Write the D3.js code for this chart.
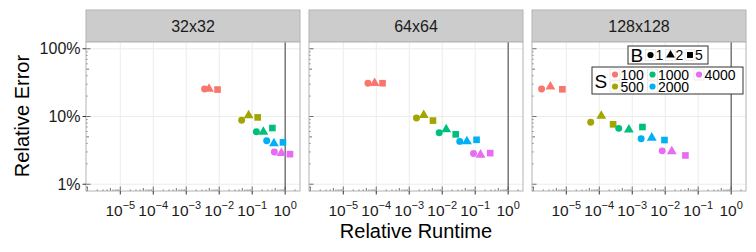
<!DOCTYPE html>
<html>
<head>
<meta charset="utf-8">
<script src="https://cdn.jsdelivr.net/npm/d3@7"></script>
<style>
  body { margin: 0; background: #fff; }
  text { font-family: "Liberation Sans", Arial, sans-serif; }
</style>
</head>
<body>
<svg id="chart" width="756" height="252"></svg>
<script>
// Data: one row per S value, three entries per row for B = 1, 2, 5
var panelNames = ["32x32", "64x64", "128x128"];
var sValues = [100, 500, 1000, 2000, 4000];
var bValues = [1, 2, 5];
var sColors = ["#F8766D", "#A3A500", "#00BF7D", "#00B0F6", "#E76BF3"];

var runtime32 = [
    [0.0036, 0.0049, 0.0089],
    [0.048, 0.078, 0.147],
    [0.134, 0.218, 0.41],
    [0.275, 0.457, 0.857],
    [0.47, 0.77, 1.40]
];
var error32 = [
    [25.5, 25.5, 25],
    [8.8, 10.4, 9.7],
    [5.95, 5.9, 6.76],
    [4.38, 4.0, 4.15],
    [3.0, 2.88, 2.78]
];
var runtime64 = [
    [5.6e-5, 8.9e-5, 1.55e-4],
    [1.66e-3, 2.75e-3, 5.25e-3],
    [8.1e-3, 1.32e-2, 2.57e-2],
    [3.4e-2, 5.6e-2, 0.11],
    [0.089, 0.145, 0.285]
];
var error64 = [
    [31, 31, 31],
    [9.5, 10.5, 8.7],
    [5.75, 6.46, 5.45],
    [4.29, 4.3, 4.53],
    [2.85, 2.72, 2.88]
];
var runtime128 = [
    [1.78e-6, 3.3e-6, 7.6e-6],
    [5.5e-5, 1.15e-4, 2.63e-4],
    [3.9e-4, 7.9e-4, 2.04e-3],
    [1.86e-3, 3.9e-3, 9.5e-3],
    [8.1e-3, 1.58e-2, 4.1e-2]
];
var error128 = [
    [25.5, 27.6, 25.2],
    [8.2, 10.2, 7.66],
    [6.68, 6.38, 6.99],
    [4.69, 4.85, 4.49],
    [3.11, 3.05, 2.66]
];
var xTickExps = [-5, -4, -3, -2, -1, 0];
var yTicks = [1, 10, 100];
var yTickLabels = ["1%", "10%", "100%"];

var runtimes = [runtime32, runtime64, runtime128];
var errors = [error32, error64, error128];

var svg = d3.select("#chart");
var font = "'Liberation Sans', Arial, sans-serif";
var panelLefts = [86, 309, 532], panelW = 214;
var stripTop = 10, panelTop = 42, panelBottom = 191;
var shapes = [d3.symbolCircle, d3.symbolTriangle, d3.symbolSquare];
var shapeSizes = [38, 42, 44];

var y = d3.scaleLog().domain([Math.pow(10, -0.1), Math.pow(10, 2.1)]).range([panelBottom, panelTop]);

// logtick positions 1..9 x 10^k
var logTicks = function(lo, hi) {
    var out = [];
    for (var k = Math.floor(Math.log10(lo)); k <= Math.ceil(Math.log10(hi)); k++) {
        for (var m = 1; m <= 9; m++) {
            var v = m * Math.pow(10, k);
            if (v >= lo && v <= hi) out.push({v: v, len: m == 1 ? 4.5 : (m == 5 ? 3 : 1.5)});
        }
    }
    return out;
}

panelNames.forEach(function(name, p) {
    var left = panelLefts[p];
    var x = d3.scaleLog().domain([Math.pow(10, -6.04), Math.pow(10, 0.45)]).range([left, left + panelW]);
    var g = svg.append("g");

    // strip
    g.append("rect").attr("x", left).attr("y", stripTop).attr("width", panelW).attr("height", panelTop - stripTop)
        .attr("fill", "#cccccc").attr("stroke", "#b3b3b3").attr("stroke-width", 1);
    g.append("text").attr("x", left + panelW / 2).attr("y", (stripTop + panelTop) / 2 + 5.5)
        .attr("text-anchor", "middle").style("font-size", "16px").attr("fill", "#1a1a1a").text(name);

    // panel + grid
    g.append("rect").attr("x", left).attr("y", panelTop).attr("width", panelW).attr("height", panelBottom - panelTop)
        .attr("fill", "#fff");
    xTickExps.forEach(function(e) {
        g.append("line").attr("x1", x(Math.pow(10, e))).attr("x2", x(Math.pow(10, e)))
            .attr("y1", panelTop).attr("y2", panelBottom).attr("stroke", "#ececec").attr("stroke-width", 1);
    });
    yTicks.forEach(function(v) {
        g.append("line").attr("x1", left).attr("x2", left + panelW).attr("y1", y(v)).attr("y2", y(v))
            .attr("stroke", "#ececec").attr("stroke-width", 1);
    });

    // log ticks inside, left and bottom
    logTicks(x.domain()[0], x.domain()[1]).forEach(function(t) {
        g.append("line").attr("x1", x(t.v)).attr("x2", x(t.v)).attr("y1", panelBottom).attr("y2", panelBottom - t.len)
            .attr("stroke", "#4d4d4d").attr("stroke-width", 0.8);
    });
    logTicks(y.domain()[0], y.domain()[1]).forEach(function(t) {
        g.append("line").attr("x1", left).attr("x2", left + t.len).attr("y1", y(t.v)).attr("y2", y(t.v))
            .attr("stroke", "#4d4d4d").attr("stroke-width", 0.8);
    });

    // reference line at runtime 1
    g.append("line").attr("x1", x(1)).attr("x2", x(1)).attr("y1", panelTop).attr("y2", panelBottom)
        .attr("stroke", "#4d4d4d").attr("stroke-width", 1.1);

    // points
    sValues.forEach(function(s, i) {
        bValues.forEach(function(b, j) {
            g.append("path")
                .attr("d", d3.symbol().type(shapes[j]).size(shapeSizes[j]))
                .attr("transform", "translate(" + x(runtimes[p][i][j]) + "," + y(errors[p][i][j]) + ")")
                .attr("fill", sColors[i]);
        });
    });

    g.append("rect").attr("x", left).attr("y", panelTop).attr("width", panelW).attr("height", panelBottom - panelTop)
        .attr("fill", "none").attr("stroke", "#b3b3b3").attr("stroke-width", 1);

    // x axis ticks + labels
    xTickExps.forEach(function(e) {
        var xv = x(Math.pow(10, e));
        g.append("line").attr("x1", xv).attr("x2", xv).attr("y1", panelBottom).attr("y2", panelBottom + 3.5)
            .attr("stroke", "#333").attr("stroke-width", 1);
        var t = g.append("text").attr("x", xv).attr("y", 216).attr("text-anchor", "middle")
            .style("font-size", "15.5px").attr("fill", "#1a1a1a");
        t.append("tspan").text("10");
        t.append("tspan").attr("dy", -7).style("font-size", "11px").text(e < 0 ? "\u2212" + (-e) : "" + e);
    });

    // y axis only on first panel
    if (p == 0) {
        yTicks.forEach(function(v, k) {
            g.append("line").attr("x1", left - 3.5).attr("x2", left).attr("y1", y(v)).attr("y2", y(v))
                .attr("stroke", "#333").attr("stroke-width", 1);
            g.append("text").attr("x", left - 5.5).attr("y", y(v) + 5.5).attr("text-anchor", "end")
                .style("font-size", "16px").attr("fill", "#1a1a1a").text(yTickLabels[k]);
        });
    }
});

// axis titles
svg.append("text").attr("x", 416).attr("y", 238).attr("text-anchor", "middle")
    .style("font-size", "20px").text("Relative Runtime");
svg.append("text").attr("transform", "translate(29,116) rotate(-90)").attr("text-anchor", "middle")
    .style("font-size", "20px").text("Relative Error");

// legends inside the third panel
var keyBox = function(cx, cy) {
    svg.append("rect").attr("x", cx - 5).attr("y", cy - 5.5).attr("width", 10).attr("height", 11)
        .attr("fill", "#fff").attr("stroke", "#e5e5e5").attr("stroke-width", 0.8);
}

// B legend
svg.append("rect").attr("x", 628).attr("y", 46).attr("width", 80).attr("height", 18)
    .attr("fill", "#fff").attr("stroke", "#333").attr("stroke-width", 1);
svg.append("text").attr("x", 630.5).attr("y", 61.5).style("font-size", "19px").text("B");
var bKeyX = [650.5, 670.5, 690];
bValues.forEach(function(b, j) {
    keyBox(bKeyX[j], 55);
    svg.append("path").attr("d", d3.symbol().type(shapes[j]).size(shapeSizes[j] * 0.8))
        .attr("transform", "translate(" + bKeyX[j] + ",55)").attr("fill", "#000");
    svg.append("text").attr("x", bKeyX[j] + 5).attr("y", 60).style("font-size", "14px").text(b);
});

// S legend
svg.append("rect").attr("x", 592).attr("y", 67).attr("width", 151).attr("height", 27)
    .attr("fill", "#fff").attr("stroke", "#333").attr("stroke-width", 1);
svg.append("text").attr("x", 594.5).attr("y", 88).style("font-size", "19px").text("S");
var sKeyX = [615, 652.5, 699], sKeyY = [74.5, 86.5];
sValues.forEach(function(s, i) {
    var col = Math.floor(i / 2), row = i % 2;
    var kx = sKeyX[col], ky = sKeyY[row];
    keyBox(kx, ky);
    svg.append("path").attr("d", d3.symbol().type(d3.symbolCircle).size(30))
        .attr("transform", "translate(" + kx + "," + ky + ")").attr("fill", sColors[i]);
    svg.append("text").attr("x", kx + 5.5).attr("y", ky + 5).style("font-size", "14px").text(s);
});
</script>
</body>
</html>
